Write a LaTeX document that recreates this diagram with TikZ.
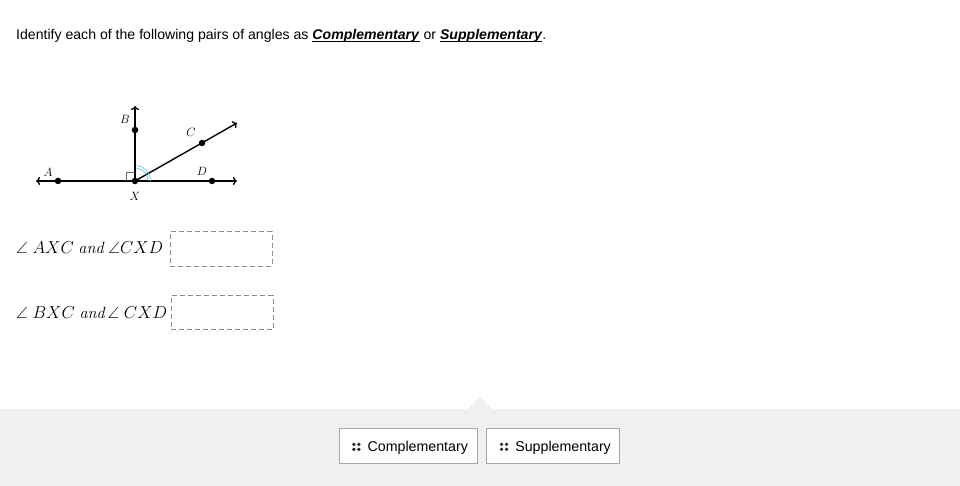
\documentclass[tikz,border=0pt]{standalone}
\usepackage{amsmath,amssymb}
\usepackage{fontspec}
\setmainfont{Liberation Sans}
\newfontfamily\lmserif{Latin Modern Roman}
\usetikzlibrary{positioning,arrows.meta}
\definecolor{panelgray}{HTML}{F0F0F0}
\definecolor{boxgray}{HTML}{8C8C8C}
\definecolor{arcblue}{HTML}{5FC3D9}

\newcommand{\undl}[1]{\setbox0\hbox{#1}\rlap{\rule[-2pt]{\wd0}{0.9pt}}\box0\relax}
\newcommand{\gripdots}{\tikz[x=1pt,y=1pt]{\foreach \i/\j in {0/0,5/0,0/5,5/5}{\fill[black!85] (\i,\j) circle (1.8);}}}

\tikzset{
  pt/.style={circle, fill=black, inner sep=0pt, minimum size=6.5pt},
  ray/.style={line width=1.4pt, arrows={To[length=4pt,width=8pt]-To[length=4pt,width=8pt]}},
  lbl/.style={font=\fontsize{12}{13}\selectfont, inner sep=0pt},
  answerbox/.style={draw=boxgray, dashed, dash pattern=on 5pt off 3pt, line width=1pt,
    minimum width=102pt, minimum height=34pt, inner sep=0pt},
  choice/.style={draw=black!35, fill=white, line width=0.8pt, minimum height=35pt,
    inner sep=0pt, text depth=0pt, font=\fontsize{14.2}{16}\selectfont},
}

\begin{document}
\begin{tikzpicture}[x=1pt,y=-1pt]
    \useasboundingbox (0,0) rectangle (960,486);

    %Consigne
    \node[anchor=base west, inner sep=0pt, font=\fontsize{14.1}{16}\selectfont] (title) at (16,40)
      {Identify each of the following pairs of angles as
       \undl{\textbf{\textit{Complementary}}} or \undl{\textbf{\textit{Supplementary}}}.};

    %Figure
    \coordinate (Aend) at (36,181);
    \coordinate (Dend) at (237,181);
    \coordinate (Bend) at (135,106);
    \coordinate (Cend) at (237,123);
    \node[pt] (X) at (135,181) {};
    \node[pt] (A) at (58,181) {};
    \node[pt] (D) at (212,181) {};
    \node[pt] (B) at (135,130) {};
    \node[pt] (C) at (202,143) {};
    \draw[ray] (Aend) -- (Dend);
    \draw[ray, arrows={-To[length=4pt,width=8pt]}] (X.center) -- (Bend);
    \draw[ray, arrows={-To[length=4pt,width=8pt]}] (X.center) -- (Cend);
    \draw[black!60, line width=0.5pt] (126,181) -- (126,172) -- (135,172);
    \draw[arcblue, line width=0.6pt] (148,181) arc[start angle=0, end angle=-82, radius=13];
    \draw[arcblue, line width=0.6pt] (150.5,181) arc[start angle=0, end angle=-82, radius=15.5];
    \node[lbl] (labA) at (48,172) {$A$};
    \node[lbl] (labB) at (125,119) {$B$};
    \node[lbl] (labC) at (191,132) {$C$};
    \node[lbl] (labD) at (202,171) {$D$};
    \node[lbl] (labX) at (135,196) {$X$};

    %Questions
    \node[anchor=base west, inner sep=0pt, font=\fontsize{16.3}{18}\selectfont] (q1) at (16,254)
      {$\angle\ AXC$ {\lmserif\itshape and} $\angle CXD$};
    \node[anchor=base west, inner sep=0pt, font=\fontsize{16.3}{18}\selectfont] (q2) at (16,318)
      {$\angle\ BXC$ {\lmserif\itshape and}$\,\angle\ CXD$};
    \node[answerbox] (box1) at (221,249) {};
    \node[answerbox] (box2) at (222,312.5) {};

    %Choix
    \fill[panelgray] (0,409) rectangle (960,486);
    \fill[panelgray] (467,409.5) -- (480,397) -- (493,409.5) -- cycle;
    \node[choice, minimum width=138pt] (comp) at (408,446)
      {\hspace{4pt}\gripdots\hspace{7pt}Complementary};
    \node[choice, minimum width=133pt, right=9pt of comp] (supp)
      {\hspace{4pt}\gripdots\hspace{7pt}Supplementary};
\end{tikzpicture}
\end{document}
